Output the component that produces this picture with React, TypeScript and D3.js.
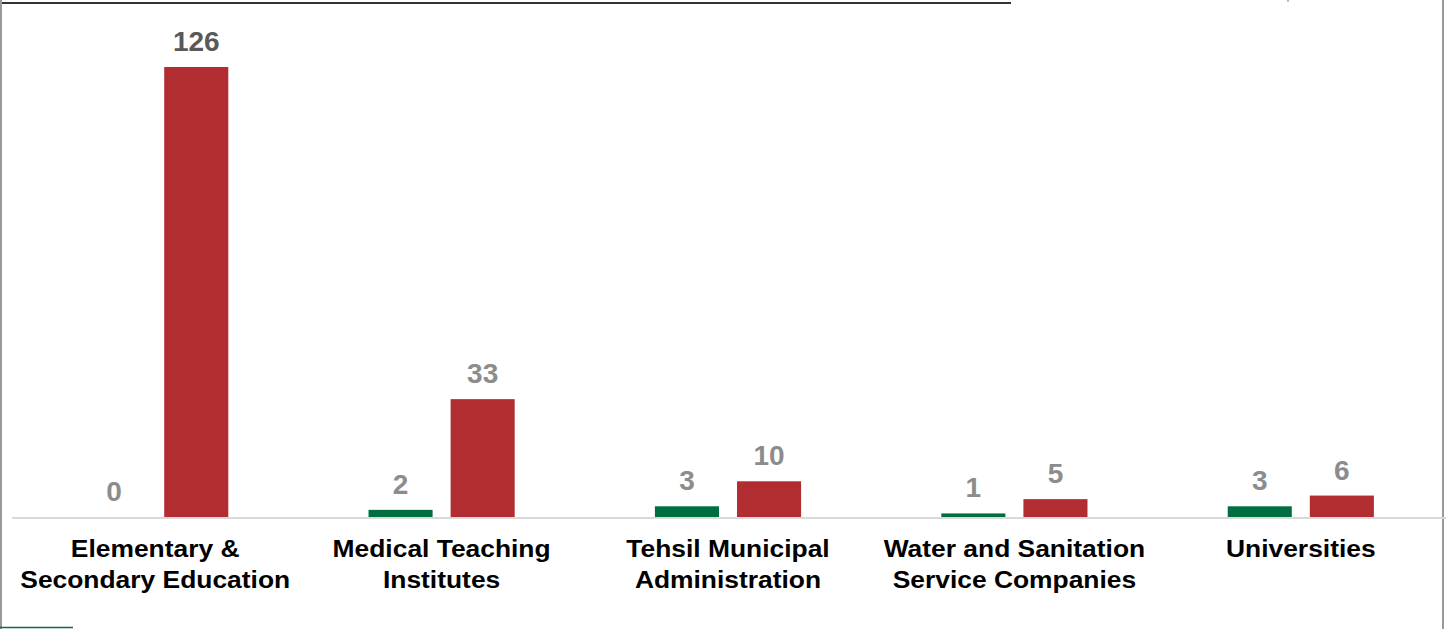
import React from "react";
import * as d3 from "d3";

const categories: string[][] = [
  ["Elementary &", "Secondary Education"],
  ["Medical Teaching", "Institutes"],
  ["Tehsil Municipal", "Administration"],
  ["Water and Sanitation", "Service Companies"],
  ["Universities"],
];
const seriesNames = ["Green", "Red"];
const greenValues = [0, 2, 3, 1, 3];
const redValues = [126, 33, 10, 5, 6];
const seriesColors = ["#006E3F", "#B22D32"];

const W = 1455;
const H = 629;

export default function App() {
  const catKeys = categories.map((c) => c.join(" "));
  const x0 = d3.scaleBand<string>().domain(catKeys).range([12, 1444]).padding(0);
  const x1 = d3
    .scaleBand<string>()
    .domain(seriesNames)
    .range([0, x0.bandwidth()])
    .paddingInner(0.2195)
    .paddingOuter(0.854);
  const y = d3.scaleLinear().domain([0, 140]).range([517, 17]);
  const series = [greenValues, redValues];

  return (
    <svg
      width={W}
      height={H}
      style={{ position: "absolute", left: 0, top: 0, background: "#fff" }}
      fontFamily="'Liberation Sans', Arial, sans-serif"
    >
      <rect x={0} y={0} width={W} height={H} fill="#fff" />
      {/* top dark line */}
      <line x1={0} x2={1011} y1={3} y2={3} stroke="#333" strokeWidth={2} />
      <line x1={1288} x2={1288} y1={0} y2={2} stroke="#bbb" strokeWidth={2} />
      {/* side borders */}
      <line x1={1} x2={1} y1={0} y2={H} stroke="#9a9a9a" strokeWidth={2} />
      <line x1={1443} x2={1443} y1={0} y2={H} stroke="#9a9a9a" strokeWidth={2} />
      {/* bottom-left green line */}
      <line x1={0} x2={73} y1={627.5} y2={627.5} stroke="#00704A" strokeWidth={1.5} />

      {/* bars */}
      {catKeys.map((ck, i) => (
        <g key={ck} transform={`translate(${x0(ck)},0)`}>
          {seriesNames.map((s, j) => {
            const v = series[j][i];
            const bx = x1(s)!;
            const bw = x1.bandwidth();
            const top = y(v);
            return (
              <g key={s}>
                {v > 0 && (
                  <rect x={bx} y={top} width={bw} height={y(0) - top} fill={seriesColors[j]} />
                )}
                <text
                  x={bx + bw / 2}
                  y={top - 16}
                  textAnchor="middle"
                  fontSize={28}
                  fontWeight="bold"
                  fill={v >= 100 ? "#595959" : "#8C8C8C"}
                >
                  {v}
                </text>
              </g>
            );
          })}
        </g>
      ))}

      {/* axis baseline */}
      <line x1={12} x2={1446} y1={518} y2={518} stroke="#D9D9D9" strokeWidth={2} />

      {/* category labels */}
      {categories.map((lines, i) => {
        const cx = x0(catKeys[i])! + x0.bandwidth() / 2;
        return (
          <g key={i} transform={`translate(${cx},0) scale(1.1,1)`}>
            {lines.map((t, k) => (
              <text
                key={k}
                x={0}
                y={557 + k * 31}
                textAnchor="middle"
                fontSize={24}
                fontWeight="bold"
                fill="#000"
              >
                {t}
              </text>
            ))}
          </g>
        );
      })}
    </svg>
  );
}
